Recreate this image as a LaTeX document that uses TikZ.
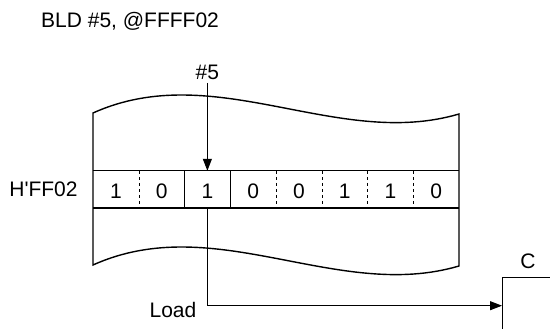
\documentclass[tikz,border=0pt]{standalone}
\usepackage{fontspec}
\setmainfont{Liberation Sans}
\usepackage{tikz}
\usetikzlibrary{positioning, arrows.meta, calc}

\begin{document}
\begin{tikzpicture}[x=1pt,y=-1pt,
  lbl/.style={inner sep=0pt, font=\fontsize{21}{24}\selectfont},
  outline/.style={line width=1.4pt},
  bit/.style={minimum width=45.75pt, minimum height=37pt, inner sep=0pt,
    text height=19pt, text depth=0pt, font=\fontsize{21}{24}\selectfont},
  divider/.style={line width=0.8pt},
  arr/.style={line width=1pt, -{Triangle[length=12pt,width=9pt]}}]
\useasboundingbox (0,0) rectangle (550,329);

\node[lbl, anchor=base west](title) at (41,28){BLD \#5, @FFFF02};

% memory area
\draw[outline] (93,113) -- (93,265) .. controls (215,210) and (337,302) .. (459,266)
  -- (459,114) .. controls (337,150) and (215,58) .. cycle;

\foreach \v [count=\i] in {1,0,1,0,0,1,1,0}{
  \node[bit](b\i) at ({93+45.75*(\i-0.5)},189.5){\v};}
\draw[outline] (b1.north west) -- (b8.north east);
\draw[outline] (b1.south west) -- (b8.south east);
\foreach \i/\s in {1/dashed,2/solid,3/solid,4/dashed,5/dashed,6/dashed,7/dashed}{
  \draw[divider,\s,dash pattern=on 4pt off 3pt,\s](b\i.north east)--(b\i.south east);}

\node[lbl, left=15pt of b1](addr){H\textquotesingle FF02};

\node[lbl, inner sep=3pt, above=88pt of b3](imm){\#5};
\draw[arr](imm)--(b3.north);

% register C
\node[draw, outline, minimum width=60pt, minimum height=56pt, anchor=north west](creg) at (502,277){};
\node[lbl](clbl) at (528,261){C};

\draw[arr](b3.south) |- (creg.west);
\node[lbl](load) at (173,310){Load};

\end{tikzpicture}
\end{document}
